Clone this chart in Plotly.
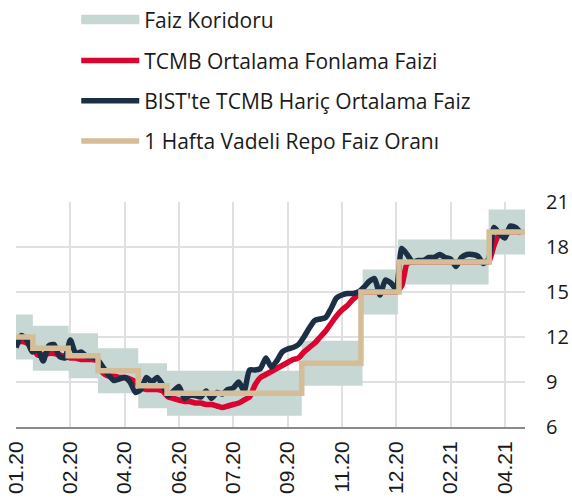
import plotly.graph_objects as go

# x axis: business-day index scaled so that 10 units = one tick interval
tick_idx = [0, 10, 20, 30, 40, 50, 60, 70, 80, 90]
tick_labels = ["01.20", "02.20", "04.20", "06.20", "07.20", "09.20", "11.20", "12.20", "02.21", "04.21"]
x_end = 93.7

# 1-week repo rate (step changes)
repo_idx = [0, 3.1, 9.6, 15.1, 22.5, 27.8, 52.6, 63.5, 70.5, 87.1, 93.7]
repo_rate = [12.0, 11.25, 10.75, 9.75, 8.75, 8.25, 10.25, 15.0, 17.0, 19.0, 19.0]

# Interest rate corridor (step changes)
corr_idx = [0, 3.1, 9.7, 15.1, 22.5, 27.8, 52.6, 63.8, 70.3, 87.0, 93.7]
corr_low = [10.5, 9.75, 9.25, 8.25, 7.25, 6.75, 8.75, 13.5, 15.5, 17.5, 17.5]
corr_high = [13.5, 12.75, 12.25, 11.25, 10.25, 9.75, 11.75, 16.5, 18.5, 20.5, 20.5]

# TCMB average funding rate
tcmb_avg = [11.6, 11.7, 11.6, 11.3, 10.8, 10.8, 10.9, 10.9, 10.8, 10.7,
            10.6, 10.6, 10.5, 10.5, 10.5, 10.4, 9.6, 9.4, 9.4, 9.3,
            9.3, 9.2, 9.0, 8.6, 8.5, 8.5, 8.5, 8.4, 8.0, 7.9,
            7.8, 7.7, 7.7, 7.6, 7.6, 7.5, 7.5, 7.4, 7.3, 7.4,
            7.5, 7.6, 7.8, 8.0, 8.8, 9.3, 9.5, 9.7, 9.9, 10.1,
            10.3, 10.5, 10.6, 11.0, 11.3, 11.6, 12.0, 12.4, 12.9, 13.4,
            13.8, 14.1, 14.5, 14.8, 15.0, 15.0, 15.0, 15.0, 15.0, 15.0,
            15.0, 15.4, 16.9, 17.0, 17.0, 17.0, 17.0, 17.0, 17.0, 17.0,
            17.0, 17.0, 17.0, 17.0, 17.0, 17.0, 17.0, 17.0, 18.1, 18.9,
            19.0, 19.0, 19.0, 19.0]

# BIST average rate excluding TCMB
bist_avg = [11.3, 12.1, 11.8, 11.0, 11.2, 10.4, 11.4, 11.5, 10.7, 10.6,
            11.8, 10.9, 11.0, 10.7, 10.7, 10.5, 10.0, 9.5, 9.1, 9.2,
            9.3, 9.0, 8.3, 8.5, 9.3, 9.0, 9.3, 8.8, 8.1, 8.4,
            8.7, 7.9, 8.1, 8.1, 8.0, 8.4, 7.9, 8.3, 8.2, 8.5,
            8.6, 9.0, 8.4, 9.8, 9.8, 9.9, 10.6, 10.0, 10.4, 11.0,
            11.2, 11.3, 11.5, 12.0, 12.6, 13.1, 13.2, 13.3, 13.9, 14.6,
            14.8, 14.9, 14.9, 15.0, 15.3, 15.7, 15.9, 14.8, 15.8, 15.6,
            15.2, 17.9, 17.5, 17.0, 17.1, 17.1, 17.3, 17.3, 17.5, 17.3,
            17.2, 16.7, 17.3, 17.5, 17.5, 17.4, 16.9, 17.2, 19.3, 18.9,
            18.6, 19.4, 19.3, 18.9]

day_idx = list(range(len(tcmb_avg)))

C_CORR = "#c7d7d4"
C_RED = "#d9042f"
C_NAVY = "#1b2f45"
C_TAN = "#d5bd98"

fig = go.Figure()
fig.add_trace(go.Scatter(x=corr_idx, y=corr_low, mode="lines",
                         line=dict(width=0, shape="hv", color=C_CORR),
                         showlegend=False, hoverinfo="skip"))
fig.add_trace(go.Scatter(x=corr_idx, y=corr_high, mode="lines",
                         line=dict(width=0, shape="hv", color=C_CORR),
                         fill="tonexty", fillcolor=C_CORR,
                         showlegend=False, hoverinfo="skip"))
# legend entry for the corridor band
fig.add_trace(go.Scatter(x=[None], y=[None], mode="lines",
                         line=dict(width=7, color=C_CORR),
                         fill="toself", fillcolor=C_CORR,
                         name="Faiz Koridoru", legendgroup="a"))
fig.add_trace(go.Scatter(x=day_idx, y=tcmb_avg, mode="lines",
                         line=dict(width=5.5, color=C_RED, shape="spline", smoothing=0.6),
                         name="TCMB Ortalama Fonlama Faizi", legendgroup="b"))
fig.add_trace(go.Scatter(x=day_idx, y=bist_avg, mode="lines",
                         line=dict(width=5.5, color=C_NAVY, shape="spline", smoothing=0.6),
                         name="BIST'te TCMB Hariç Ortalama Faiz", legendgroup="c"))
fig.add_trace(go.Scatter(x=repo_idx, y=repo_rate, mode="lines",
                         line=dict(width=5.5, color=C_TAN, shape="hv"),
                         name="1 Hafta Vadeli Repo Faiz Oranı", legendgroup="d"))

fig.update_layout(
    width=572, height=503,
    margin=dict(l=16, r=47, t=202, b=76, autoexpand=False),
    paper_bgcolor="white", plot_bgcolor="white",
    font=dict(family="Open Sans", size=19, color="#1a1a1a"),
    legend=dict(xref="container", yref="container", x=0.1333, y=1.012,
                xanchor="left", yanchor="top", font=dict(size=21),
                itemwidth=58, tracegroupgap=10, traceorder="grouped",
                bgcolor="rgba(0,0,0,0)"),
    xaxis=dict(range=[0, x_end], tickmode="array", tickvals=tick_idx, ticktext=tick_labels,
               tickangle=-90, showgrid=True, gridcolor="#e0e0e0", gridwidth=2,
               showline=True, linecolor="#8a8a8a", linewidth=2, ticks="",
               zeroline=False, tickfont=dict(size=21, family="Liberation Sans"),
               ticklabelstandoff=4, ticklabeloverflow="allow", automargin=False),
    yaxis=dict(range=[6, 21], side="right", tickvals=[6, 9, 12, 15, 18, 21],
               showgrid=True, gridcolor="#e0e0e0", gridwidth=2, zeroline=False,
               showline=False, ticks="", ticklabelstandoff=20, tickfont=dict(size=20),
               ticklabeloverflow="allow", automargin=False),
)

# remove the default 8px page margin so the 572x503 figure fills the window
fig.write_html("out.html", config={"displayModeBar": False},
               post_script="document.body.style.margin='0';document.body.style.overflow='hidden';")
